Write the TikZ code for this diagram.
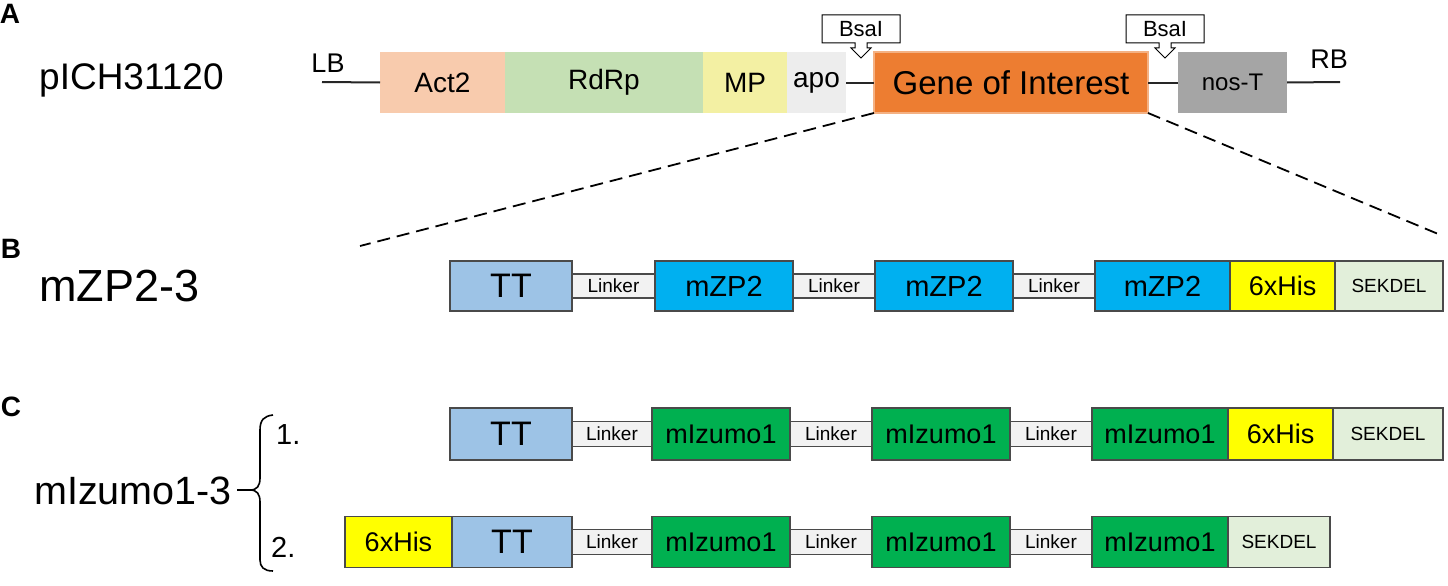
\documentclass[tikz,border=0pt]{standalone}
\usepackage{fontspec}
\setmainfont{Liberation Sans}
\newcommand\fs[1]{\fontsize{#1}{#1}\selectfont}
\definecolor{cAct}{HTML}{F8CBAD}
\definecolor{cRd}{HTML}{C5E0B4}
\definecolor{cMP}{HTML}{F3F0A3}
\definecolor{cApo}{HTML}{EDEDED}
\definecolor{cGOI}{HTML}{ED7D31}
\definecolor{cGOIb}{HTML}{F4B183}
\definecolor{cNos}{HTML}{A5A5A5}
\definecolor{cTT}{HTML}{9DC3E6}
\definecolor{cZP}{HTML}{00B0F0}
\definecolor{cHis}{HTML}{FFFF00}
\definecolor{cSek}{HTML}{E2EFDA}
\definecolor{cIz}{HTML}{00B050}
\definecolor{cLk}{HTML}{F2F2F2}
\definecolor{cBd}{HTML}{4A4A4A}
\definecolor{cLine}{HTML}{262626}
\newcommand\blk[7]{\node[#6, minimum width={#3pt-#2pt}, minimum height=#5pt] (#1) at ({(#2+#3)/2},#4) {#7};}
\tikzset{
  topbox/.style={inner sep=0pt, outer sep=0pt, font=\fs{28}},
  bbox/.style={draw=cBd, line width=1.1pt, inner sep=0pt, outer sep=0pt, font=\fs{28}},
  lk/.style={bbox, fill=cLk, font=\fs{19}},
  sek/.style={bbox, fill=cSek, font=\fs{19}},
  his/.style={bbox, fill=cHis, font=\fs{27}},
  tt/.style={bbox, fill=cTT, font=\fs{34}},
  zp/.style={bbox, fill=cZP, font=\fs{29}},
  iz/.style={bbox, fill=cIz, font=\fs{27}},
  wire/.style={draw=cLine, line width=2pt},
  zoomline/.style={draw=black, line width=1.8pt, dash pattern=on 13pt off 7pt},
  panel/.style={font=\bfseries\fs{28}, inner sep=0pt},
  big/.style={font=\fs{37}, inner sep=0pt, anchor=west},
  callout/.style={draw=black, line width=1pt, fill=white},
  num/.style={font=\fs{29}, inner sep=0pt, anchor=west},
}
\begin{document}
\begin{tikzpicture}[x=1pt,y=-1pt]
\useasboundingbox (0,0) rectangle (1448,586);
% panel letters
\node[panel] (pA) at (10,14) {A};
\node[panel] (pB) at (11,249) {B};
\node[panel] (pC) at (11,407) {C};
% row A
\node[big] (vec) at (39,80) {pICH31120};
\blk{act}{380}{505}{82.5}{61}{topbox, fill=cAct}{Act2}
\blk{rd}{505}{703}{82.5}{61}{topbox, fill=cRd}{RdRp}
\blk{mp}{703}{787}{82.5}{61}{topbox, fill=cMP}{MP}
\blk{apo}{787}{846}{82.5}{61}{topbox, fill=cApo}{apo}
\blk{goi}{874}{1148}{82.5}{61}{topbox, fill=cGOI, draw=cGOIb, line width=1.5pt, font=\fs{33}}{Gene of Interest}
\blk{nos}{1178}{1287}{82.5}{61}{topbox, fill=cNos, font=\fs{24}}{nos-T}
\coordinate (lbend) at (322,82);
\coordinate (rbend) at (1340,82);
\node[font=\fs{27}, inner sep=0pt] (lb) at (328,63) {LB};
\node[font=\fs{27}, inner sep=0pt] (rb) at (1329,59) {RB};
\draw[wire] (lbend) -- (act.west);
\draw[wire] (apo.east) -- (goi.west);
\draw[wire] (goi.east) -- (nos.west);
\draw[wire] (nos.east) -- (rbend);
% BsaI callouts
\draw[callout] (822,15) -- (900,15) -- (900,43) -- (867,43) -- (867,48) -- (871,48) -- (861,58) -- (851,48) -- (855,48) -- (855,43) -- (822,43) -- cycle;
\node[font=\fs{22}, inner sep=0pt] (bsa1) at (861,29) {BsaI};
\draw[callout] (1126,15) -- (1204,15) -- (1204,43) -- (1171,43) -- (1171,48) -- (1175,48) -- (1165,58) -- (1155,48) -- (1159,48) -- (1159,43) -- (1126,43) -- cycle;
\node[font=\fs{22}, inner sep=0pt] (bsa2) at (1165,29) {BsaI};
% zoom lines
\coordinate (zl) at (360,246);
\coordinate (zr) at (1443,236);
\draw[zoomline] (goi.south west) -- (zl);
\draw[zoomline] (goi.south east) -- (zr);
% row B
\node[big, font=\fs{45}] (mzp) at (39,286) {mZP2-3};
\blk{b1}{450}{572}{286}{50}{tt}{TT}
\blk{b2}{572}{655}{286}{24}{lk}{Linker}
\blk{b3}{655}{793}{286}{50}{zp}{mZP2}
\blk{b4}{793}{875}{286}{24}{lk}{Linker}
\blk{b5}{875}{1013}{286}{50}{zp}{mZP2}
\blk{b6}{1013}{1095}{286}{24}{lk}{Linker}
\blk{b7}{1095}{1230}{286}{50}{zp}{mZP2}
\blk{b8}{1230}{1335}{286}{50}{his}{6xHis}
\blk{b9}{1335}{1443}{286}{50}{sek}{SEKDEL}
% row C
\node[big, font=\fs{39.5}] (miz) at (34,491) {mIzumo1-3};
\draw[line width=1.6pt] (273,415) .. controls (264,416) and (260,420) .. (260,430) -- (260,478) .. controls (260,486) and (257,490) .. (250,490) -- (237,490);
\draw[line width=1.6pt] (250,490) .. controls (257,490) and (260,494) .. (260,502) -- (260,560) .. controls (260,567) and (264,571) .. (273,571);
\node[num] (n1) at (276,435) {1.};
\node[num] (n2) at (271,547) {2.};
\blk{c1}{450}{572}{434}{52}{tt}{TT}
\blk{c2}{572}{652}{434}{25}{lk}{Linker}
\blk{c3}{652}{790}{434}{52}{iz}{mIzumo1}
\blk{c4}{790}{872}{434}{25}{lk}{Linker}
\blk{c5}{872}{1010}{434}{52}{iz}{mIzumo1}
\blk{c6}{1010}{1092}{434}{25}{lk}{Linker}
\blk{c7}{1092}{1228}{434}{52}{iz}{mIzumo1}
\blk{c8}{1228}{1333}{434}{52}{his}{6xHis}
\blk{c9}{1333}{1443}{434}{52}{sek}{SEKDEL}
\blk{d0}{345}{452}{542}{51}{his}{6xHis}
\blk{d1}{452}{572}{542}{51}{tt}{TT}
\blk{d2}{572}{652}{542}{25}{lk}{Linker}
\blk{d3}{652}{790}{542}{51}{iz}{mIzumo1}
\blk{d4}{790}{872}{542}{25}{lk}{Linker}
\blk{d5}{872}{1010}{542}{51}{iz}{mIzumo1}
\blk{d6}{1010}{1092}{542}{25}{lk}{Linker}
\blk{d7}{1092}{1228}{542}{51}{iz}{mIzumo1}
\blk{d8}{1228}{1330}{542}{51}{sek}{SEKDEL}
\end{tikzpicture}
\end{document}
